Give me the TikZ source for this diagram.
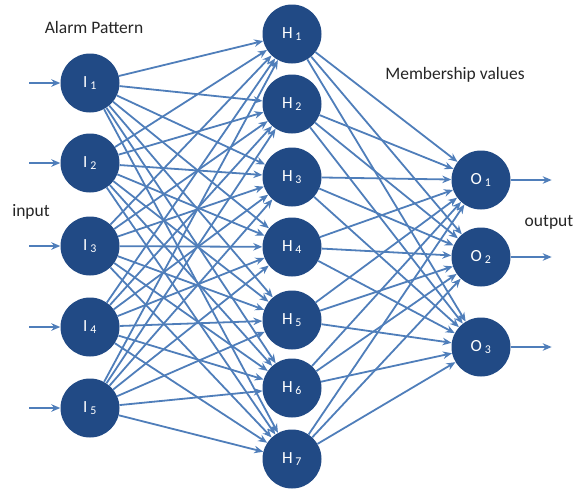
\documentclass[tikz,border=0pt]{standalone}
\usepackage{fontspec}
\setmainfont{Carlito}
\usetikzlibrary{arrows.meta}
\definecolor{nodeblue}{RGB}{33,74,133}
\definecolor{edgeblue}{RGB}{79,126,186}
\tikzset{
  neuron/.style={circle, fill=nodeblue, minimum size=59pt, inner sep=0pt, text=white, font=\fontsize{17}{20}\selectfont},
  link/.style={draw=edgeblue, line width=1.8pt, -{Stealth[length=9pt,width=7.5pt]}},
  caption/.style={font=\fontsize{17.5}{20}\selectfont, text=black!85}
}
\begin{document}
\begin{tikzpicture}[x=1pt,y=-1pt]
  \useasboundingbox (0,0) rectangle (582,491);
  \foreach \n/\y in {1/83,2/163,3/246,4/327,5/408}
    \node[neuron] (I\n) at (90,\y) {I\,\textsubscript{\n}};
  \foreach \n/\y in {1/34,2/104,3/177,4/247,5/320,6/388,7/459}
    \node[neuron] (H\n) at (292,\y) {H\,\textsubscript{\n}};
  \foreach \n/\y in {1/180,2/257,3/347}
    \node[neuron] (O\n) at (481,\y) {O\,\textsubscript{\n}};
  \foreach \i in {1,...,5}
    \foreach \h in {1,...,7}
      \draw[link] (I\i) -- (H\h);
  \foreach \h in {1,...,7}
    \foreach \o in {1,...,3}
      \draw[link] (H\h) -- (O\o);
  \foreach \n in {1,...,5} {
    \coordinate (in\n) at ([xshift=-31pt]I\n.west);
    \draw[link] (in\n) -- (I\n);
  }
  \foreach \n in {1,...,3} {
    \coordinate (out\n) at ([xshift=41pt]O\n.east);
    \draw[link] (O\n) -- (out\n);
  }
  \node[caption] (alarm) at (94,27) {Alarm Pattern};
  \node[caption] (member) at (455,75) {Membership values};
  \node[caption] (input) at (31,212) {input};
  \node[caption] (output) at (549,222) {output};
\end{tikzpicture}
\end{document}
